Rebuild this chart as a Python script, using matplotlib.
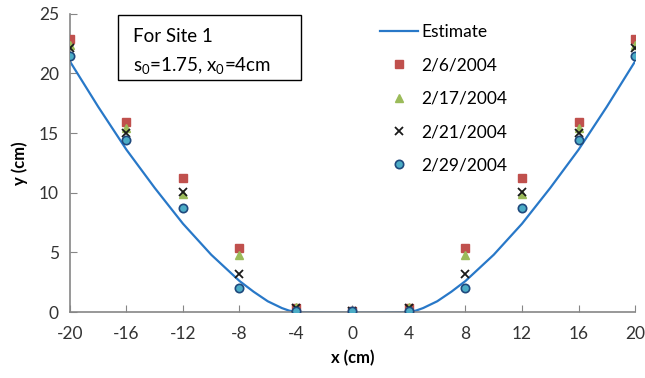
import matplotlib.pyplot as plt
from matplotlib.patches import Rectangle

plt.rcParams['font.family'] = ['Lato', 'DejaVu Sans']
plt.rcParams['mathtext.default'] = 'regular'
plt.rcParams['axes.unicode_minus'] = False

# measured points
x_pts = [-20, -16, -12, -8, -4, 0, 4, 8, 12, 16, 20]
y_0206 = [22.9, 15.9, 11.2, 5.4, 0.35, 0.05, 0.35, 5.4, 11.2, 15.9, 22.9]
y_0217 = [22.4, 15.4, 9.9, 4.8, 0.4, 0.05, 0.4, 4.8, 9.9, 15.4, 22.4]
y_0221 = [22.1, 15.0, 10.1, 3.2, 0.3, 0.05, 0.3, 3.2, 10.1, 15.0, 22.1]
y_0229 = [21.5, 14.4, 8.7, 2.0, 0.05, 0.05, 0.05, 2.0, 8.7, 14.4, 21.5]

# estimate curve
x_est = [-20, -19, -18, -17, -16, -15, -14, -13, -12, -11, -10, -9, -8, -7, -6, -5, -4.5,
         -4, -2, 0, 2, 4, 4.5, 5, 6, 7, 8, 9, 10, 11, 12, 13, 14, 15, 16, 17, 18, 19, 20]
y_est = [21.0, 19.1, 17.2, 15.4, 13.6, 12.0, 10.4, 8.9, 7.4, 6.1, 4.8, 3.7, 2.6, 1.7, 0.9, 0.33, 0.12,
         0.0, -0.03, -0.04, -0.03, 0.0, 0.12, 0.33, 0.9, 1.7, 2.6, 3.7, 4.8, 6.1, 7.4, 8.9, 10.4, 12.0,
         13.6, 15.4, 17.2, 19.1, 21.0]
labels = ['2/6/2004', '2/17/2004', '2/21/2004', '2/29/2004']
x_ticks = [-20, -16, -12, -8, -4, 0, 4, 8, 12, 16, 20]
y_ticks = [0, 5, 10, 15, 20, 25]

fig = plt.figure(figsize=(6.45, 3.78), dpi=100)
ax = fig.add_axes([0.1085, 0.1746, 0.876, 0.789])

ax.plot(x_est, y_est, color='#2878C8', lw=1.6, label='Estimate', zorder=2)
ax.plot(x_pts, y_0206, ls='none', marker='s', ms=6, color='#C0504D', label=labels[0], zorder=3)
ax.plot(x_pts, y_0217, ls='none', marker='^', ms=6, color='#9BBB59', label=labels[1], zorder=3)
ax.plot(x_pts, y_0221, ls='none', marker='x', ms=6, mew=1.3, color='#1a1a1a', label=labels[2], zorder=4)
ax.plot(x_pts, y_0229, ls='none', marker='o', ms=6, mfc='#4BACC6', mec='#1F497D', mew=1.2,
        label=labels[3], zorder=5)

ax.set_xlim(-20, 20)
ax.set_ylim(0, 25)
ax.set_xticks(x_ticks)
ax.set_yticks(y_ticks)
ax.tick_params(direction='in', length=5, color='#868686', labelsize=12.5, labelcolor='#333333')
ax.tick_params(axis='x', pad=10)
ax.tick_params(axis='y', pad=8)
for s in ['top', 'right']:
    ax.spines[s].set_visible(False)
for s in ['left', 'bottom']:
    ax.spines[s].set_color('#868686')
    ax.spines[s].set_linewidth(1.2)

ax.set_xlabel('x (cm)', fontsize=12, fontweight='bold', labelpad=6)
ax.set_ylabel('y (cm)', fontsize=12, fontweight='bold', labelpad=8)

ax.add_patch(Rectangle((0.085, 0.779), 0.324, 0.218, transform=ax.transAxes, fc='white',
                       ec='black', lw=1, clip_on=False, zorder=6))
ax.text(0.112, 0.923, 'For Site 1', transform=ax.transAxes, fontsize=13.5,
        va='center', ha='left', zorder=7)
ax.text(0.112, 0.826, 's$_0$=1.75, x$_0$=4cm', transform=ax.transAxes, fontsize=13.5,
        va='center', ha='left', zorder=7)

ax.legend(loc='upper left', bbox_to_anchor=(0.533, 0.995), frameon=False, fontsize=12.5,
          borderpad=0, handlelength=2.2, labelspacing=1.0, handletextpad=0.2)

fig.savefig('out.png', dpi=100)
